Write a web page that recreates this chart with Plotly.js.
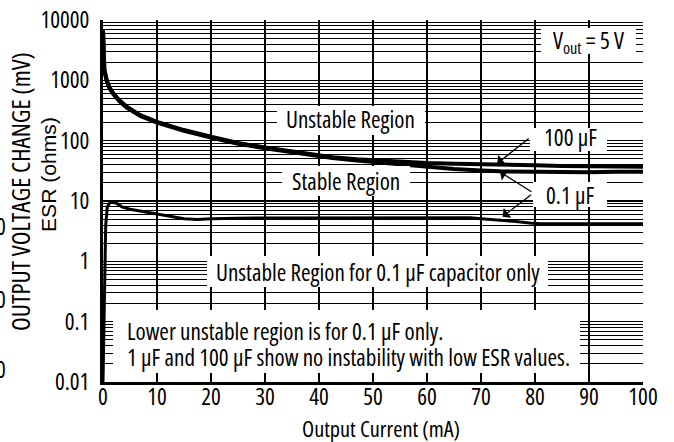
<!DOCTYPE html>
<html>
<head>
<meta charset="utf-8">
<script src="https://cdn.plot.ly/plotly-3.0.1.min.js"></script>
<style>html,body{margin:0;padding:0;background:#fff;}#chart{width:674px;height:442px;}</style>
</head>
<body>
<div id="chart"></div>
<script>
// ---- data ----
const x100uF   = [0, 0.1, 0.25, 0.7, 1.2, 1.9, 3, 4.4, 6.9, 10, 15, 20, 25, 30, 36.5, 42.5, 47, 50, 55, 60, 65, 70, 75, 80, 85, 90, 95, 100];
const esr100uF = [6800, 3000, 1500, 1000, 760, 608, 470, 365, 265, 205, 150, 116, 92, 77, 63, 53, 49, 47, 44, 42.5, 41.5, 41, 40, 39, 38, 37.5, 37, 37];

const x01uFHigh   = [0, 0.1, 0.25, 0.7, 1.2, 1.9, 3, 4.4, 6.9, 10, 15, 20, 25, 30, 36.5, 42.5, 47, 50, 55, 60, 65, 70, 73.5, 80, 85, 90, 95, 100];
const esr01uFHigh = [6600, 2900, 1450, 970, 740, 590, 455, 354, 257, 199, 146, 113, 89, 75, 61, 51.5, 47, 44.5, 40, 36.5, 34, 32, 31, 30.5, 30, 30, 30.5, 30.5];

const x01uFLow   = [0, 0.15, 0.3, 0.5, 0.8, 1.4, 2.5, 3.5, 5, 7.5, 10, 12.5, 15, 17.5, 20, 25, 30, 40, 50, 60, 66, 68, 70, 73, 76, 79, 81, 85, 90, 95, 100];
const esr01uFLow = [0.01, 0.1, 1, 4, 8, 9.7, 9.2, 8.0, 7.3, 6.7, 6.2, 5.6, 5.1, 4.95, 5.1, 5.2, 5.2, 5.2, 5.2, 5.2, 5.25, 5.3, 5.1, 4.9, 4.6, 4.3, 4.2, 4.2, 4.2, 4.2, 4.2];

const xTickVals = [0, 10, 20, 30, 40, 50, 60, 70, 80, 90, 100];
const yTickVals = [0.01, 0.1, 1, 10, 100, 1000, 10000];
const yTickText = ['0.01', '0.1', '1', '10', '100', '1000', '10000'];

// ---- measure text the same way the chart draws it (SVG text) ----
const NS = 'http://www.w3.org/2000/svg';
const msvg = document.createElementNS(NS, 'svg');
msvg.setAttribute('width', '3000'); msvg.setAttribute('height', '200');
msvg.style.position = 'absolute'; msvg.style.left = '-4000px'; msvg.style.top = '0';
document.body.appendChild(msvg);
function svgW(fam, stretch, s) {
  const t = document.createElementNS(NS, 'text');
  t.setAttribute('x', '0'); t.setAttribute('y', '150');
  t.style.fontFamily = fam; t.style.fontSize = '100px'; t.style.fontStretch = stretch;
  t.textContent = s; msvg.appendChild(t);
  const w = t.getComputedTextLength(); msvg.removeChild(t); return w;
}
let FONT = '"Liberation Sans"', STRETCH = 'normal';
for (const f of ['"Noto Sans"', '"Open Sans"', '"DejaVu Sans"']) {
  const n = svgW(f, 'normal', 'Output Current (mA)');
  const c = svgW(f, 'condensed', 'Output Current (mA)');
  if (c / n < 0.93) { FONT = f; STRETCH = 'condensed'; break; }
}
const FAM = FONT + ', "Liberation Sans", sans-serif';
const WIDEFAM = '"Liberation Sans", Arial, sans-serif';   // face without a condensed cut
const sizeFor = (s, w) => 100 * w / svgW(FAM, STRETCH, s);

const TICK = sizeFor('10000', 49);
const XT = sizeFor('Output Current (mA)', 158);
const YT1 = sizeFor('OUTPUT VOLTAGE CHANGE (mV)', 279);
const YT2 = 100 * 115 / svgW(WIDEFAM, 'normal', 'ESR (ohms)');
const ANN = (sizeFor('Unstable Region', 130) + sizeFor('Stable Region', 108) +
             sizeFor('Unstable Region for 0.1 μF capacitor only', 323) +
             sizeFor('Lower unstable region is for 0.1 μF only.', 313) +
             sizeFor('1 μF and 100 μF show no instability with low ESR values.', 446)) / 5;
document.body.removeChild(msvg);
if (STRETCH !== 'normal') {
  const st = document.createElement('style');
  st.textContent = 'svg text{font-stretch:' + STRETCH + ';}';
  document.head.appendChild(st);
}

// ---- layout helpers (pixel -> paper) ----
const L = 103, T = 20, W = 540, H = 362;
const px = v => (v - L) / W;
const py = v => (T + H - v) / H;

function whiteBox(x0, y0, x1, y1) {
  return {type: 'rect', xref: 'paper', yref: 'paper', x0: px(x0), x1: px(x1), y0: py(y1), y1: py(y0),
          fillcolor: '#ffffff', line: {width: 0}, layer: 'above'};
}
function label(text, cx, cy, extra) {
  return Object.assign({text: text, xref: 'paper', yref: 'paper', x: px(cx), y: py(cy),
          showarrow: false, xanchor: 'center', yanchor: 'middle',
          font: {family: FAM, size: ANN, color: '#000'}}, extra || {});
}
function arrow(xd, yd, ax, ay) {
  return {text: '', xref: 'x', yref: 'y', x: xd, y: Math.log10(yd), ax: ax, ay: ay,
          showarrow: true, arrowhead: 1, arrowsize: 1.6, arrowwidth: 1.3, arrowcolor: '#000', standoff: 0};
}

const traces = [
  {x: x100uF, y: esr100uF, mode: 'lines', line: {color: '#000', width: 4}, name: '100 μF', hoverinfo: 'skip'},
  {x: x01uFHigh, y: esr01uFHigh, mode: 'lines', line: {color: '#000', width: 4}, name: '0.1 μF upper', hoverinfo: 'skip'},
  {x: x01uFLow, y: esr01uFLow, mode: 'lines', line: {color: '#000', width: 3}, name: '0.1 μF lower', hoverinfo: 'skip'}
];

const layout = {
  width: 674, height: 442,
  margin: {l: L, r: 674 - L - W, t: T, b: 442 - T - H, pad: 0},
  paper_bgcolor: '#fff', plot_bgcolor: '#fff',
  showlegend: false,
  font: {family: FAM, size: ANN, color: '#000'},
  xaxis: {
    range: [0, 100], tickmode: 'array', tickvals: xTickVals,
    showgrid: true, gridcolor: '#000', gridwidth: 1.5,
    showline: true, linecolor: '#000', linewidth: 3,
    zeroline: false, ticks: '', ticklabelstandoff: -8,
    tickfont: {family: FAM, size: TICK, color: '#000'}, fixedrange: true
  },
  yaxis: {
    type: 'log', range: [-2, 4], tickmode: 'array', tickvals: yTickVals, ticktext: yTickText,
    showgrid: true, gridcolor: '#000', gridwidth: 1.2,
    minor: {dtick: 'D1', showgrid: true, gridcolor: '#000', gridwidth: 1, ticks: ''},
    showline: true, linecolor: '#000', linewidth: 3,
    zeroline: false, ticks: '', ticklabelstandoff: 6,
    tickfont: {family: FAM, size: TICK, color: '#000'}, fixedrange: true
  },
  shapes: [
    whiteBox(541, 28, 636, 54),
    whiteBox(277, 106, 425, 135),
    whiteBox(282, 166, 410, 196),
    whiteBox(530, 128, 607, 151),
    whiteBox(533, 182, 607, 207),
    whiteBox(207, 256, 548, 287),
    whiteBox(113, 310, 580, 373)
  ],
  annotations: [
    label('V<sub>out</sub> = 5 V', 588, 41),
    label('Unstable Region', 350, 119),
    label('Stable Region', 346, 181),
    label('100 μF', 570, 137),
    label('0.1 μF', 570, 195),
    label('Unstable Region for 0.1 μF capacitor only', 378, 272),
    label('Lower unstable region is for 0.1 μF only.', 125, 331, {xanchor: 'left'}),
    label('1 μF and 100 μF show no instability with low ESR values.', 125, 357, {xanchor: 'left'}),
    arrow(73, 42, 33, -26),
    arrow(73.5, 30.5, 33, 21),
    arrow(74, 5.5, 30, -23),
    label('OUTPUT VOLTAGE CHANGE (mV)', 20, 192, {textangle: -90, font: {family: FAM, size: YT1, color: '#000'}}),
    label('ESR (ohms)', 48, 175, {textangle: -90, font: {family: WIDEFAM, size: YT2, color: '#000'}}),
    label('Output Current (mA)', 381, 428, {font: {family: FAM, size: XT, color: '#000'}}),
    label('0', 0.5, 226, {font: {family: FAM, size: TICK, color: '#000'}}),
    label('0', 0.5, 299, {font: {family: FAM, size: TICK, color: '#000'}}),
    label('0', 0.5, 369, {font: {family: FAM, size: TICK, color: '#000'}})
  ]
};

Plotly.newPlot('chart', traces, layout, {staticPlot: true, displayModeBar: false});
</script>
</body>
</html>
